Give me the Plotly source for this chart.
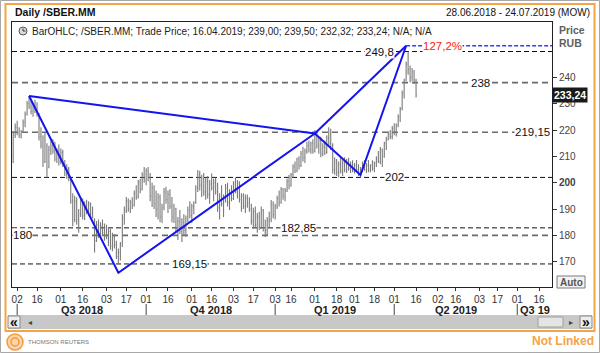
import pandas as pd
import plotly.graph_objects as go

# ---------------- trading calendar (MOEX) ----------------
holidays = ['2018-11-05', '2018-12-31', '2019-01-01', '2019-01-02', '2019-01-07',
            '2019-03-08', '2019-05-01', '2019-05-09', '2019-06-12']
extra_days = ['2018-12-29']
days = pd.bdate_range('2018-06-28', '2019-07-24')
days = days.drop(pd.to_datetime(holidays)).union(pd.to_datetime(extra_days))
pos = {d.strftime('%Y-%m-%d'): i for i, d in enumerate(days)}

# ---------------- daily OHLC, 28.06.2018 .. 16.04.2019 ----------------
opens = [210, 218, 221, 219, 218, 219.5, 223, 226, 230, 229,
         227, 229, 227.5, 226, 217.5, 214, 208, 214, 206, 212.5,
         214, 212, 209, 212, 208, 211.5, 207, 203.5, 205, 201,
         193, 186, 193, 186, 188, 192, 187.5, 191.5, 189, 192,
         188.5, 186, 178, 184, 180.5, 183.5, 181, 183, 179.5, 181.5,
         176, 179.5, 176.5, 172, 173.5, 177, 186.5, 189.5, 193, 190,
         192.5, 191.5, 196, 194.5, 200, 197.5, 203, 201, 204.5, 202,
         195, 198, 192, 190, 194.5, 187, 190.5, 196.5, 193.5, 195.5,
         191, 187, 190, 182.5, 185.5, 181.5, 185, 182, 186.5, 189.5,
         187.5, 191, 192.5, 198, 203, 199, 201.5, 196.5, 200.5, 195.5,
         199.5, 198, 200, 196.5, 190.5, 194.5, 192, 194, 198, 192.5,
         196, 194, 199.5, 197, 200, 193.5, 195, 191, 194, 192,
         190, 185.5, 189, 184, 187, 183, 189.5, 183, 182, 185.5,
         186, 192, 188, 191, 194, 192.5, 197.5, 195, 197, 200.5,
         199, 203, 206, 204.5, 209, 206.5, 211, 209.5, 212, 214,
         212.5, 215, 212, 218, 214, 216, 211, 213.5, 211.5, 217,
         215, 214, 205, 208.5, 204, 207, 204.5, 207.5, 205, 208,
         205.5, 207, 204.5, 206.5, 205, 203.5, 205.5, 207, 205, 206.5,
         205, 206.5, 205.5, 207.5, 209, 208, 212.5, 210, 215, 216.5,
         218.5, 217.5, 220.5, 219.5, 222, 225, 228, 234, 239, 245,
         243, 240, 242, 239.00]
highs = [219.5, 222.5, 223.5, 221, 220, 224, 227, 231, 232.9, 231.2,
         230, 231.5, 230.5, 226.5, 221, 218, 219, 215, 214, 216,
         216.5, 215.5, 213, 214.5, 213, 212.5, 208.6, 207, 206, 201.5,
         196, 195, 194.5, 190, 194.6, 194, 193, 193.5, 193, 192.5,
         191, 186.5, 185.5, 186, 185, 186, 184.5, 184, 183, 182.5,
         181, 180.5, 178, 175, 177.5, 188, 191, 194.6, 194, 193.5,
         194.5, 197, 199, 201, 201.5, 204, 206, 205.5, 206, 203.7,
         200, 199, 197, 196, 195.5, 192, 198, 198.5, 197, 197.5,
         194.6, 192, 190.5, 187, 189.6, 186.5, 188, 187.5, 191, 193,
         192, 193, 199, 204.8, 204.5, 203, 203.7, 202, 202.5, 201,
         203.5, 201.5, 202, 200, 196, 199, 195.5, 199.5, 200, 197.5,
         199, 200.5, 202, 201, 200.5, 196, 196, 195.5, 195.5, 194.5,
         192, 190.5, 191, 188.5, 189, 191, 190, 186, 187, 189,
         193.4, 193, 192, 195, 197, 198.4, 198, 198, 201.5, 203,
         203.7, 207, 208, 209.5, 210, 212, 213.6, 213, 215.5, 216,
         215.5, 216.5, 220, 219.5, 217, 217.4, 215, 216, 218, 221,
         220.5, 215, 209.7, 209, 208, 209.5, 208.5, 209.7, 209, 209.5,
         208, 208.5, 207.5, 208.6, 207, 206, 208, 208.6, 207.5, 208.6,
         207, 208.5, 208, 210, 212, 213.5, 213, 215.5, 217.4, 219.5,
         220, 221.5, 222.6, 222.5, 226, 228.7, 235, 239.5, 246, 249.8,
         244.5, 243.5, 242.8, 239.50]
lows = [207.5, 217, 218, 217, 216.8, 219, 221, 225.5, 228, 226,
        225, 226.5, 225, 216, 213, 206, 207.5, 202, 205.5, 210.5,
        211, 208, 207.5, 206.5, 207, 206, 202.5, 201.5, 200.5, 192,
        183.5, 185, 184, 181, 187, 186, 185.8, 188, 187.5, 187,
        186.5, 173.5, 177.5, 179, 178.5, 180, 178, 178.5, 176, 174.5,
        174, 175, 171, 169.15, 170.5, 175.6, 184, 188.5, 189, 188.5,
        190, 191, 193.5, 194, 196, 197, 200, 199, 200.5, 193,
        190.8, 190, 187, 186, 185, 184.7, 189.5, 192, 188.5, 190,
        185, 184.7, 181, 178.2, 180.5, 177.5, 180, 179.5, 185, 186.5,
        184.7, 188, 192, 196.5, 197, 194.6, 195, 193.5, 194, 192,
        197, 193, 195.5, 189, 186, 191, 187, 192.5, 191, 189.6,
        193, 193.4, 196, 194, 192.5, 189, 190, 188.5, 190.5, 189,
        184, 182.5, 183, 181, 182, 182.5, 181.5, 179.4, 180, 183,
        185, 186.5, 186, 190, 191, 192, 193.5, 193, 196.5, 197.5,
        198.5, 202, 203.7, 204, 205, 206, 208, 207.5, 211, 211.5,
        211, 211, 211.5, 213, 211, 209.7, 210, 210.5, 211, 214,
        212.4, 203.5, 203, 202.5, 202, 203.5, 202.5, 204, 203.7, 204.5,
        203.7, 204, 203.5, 204, 202.5, 202, 204, 204.5, 203.7, 204,
        204, 204.5, 204, 206, 207.5, 207, 206, 209.5, 212.4, 216,
        216.5, 216.5, 218, 217.5, 221, 223, 227.5, 232, 238.5, 241,
        238, 238.5, 237.5, 232.32]
closes = [218, 221, 219, 218, 219.5, 223, 226, 230, 229, 227,
          229, 227.5, 226, 217.5, 214, 208, 216, 205.5, 212.5, 214,
          212, 209, 212, 208, 211.5, 207, 203.5, 205, 201.5, 193,
          186, 193, 186, 188, 192, 187.5, 191.5, 189, 192, 188.5,
          187, 178, 184, 180.5, 183.5, 181, 183, 179.5, 181.5, 176,
          179.5, 176.5, 172, 173.5, 176.5, 186.5, 189.5, 193, 190, 192.5,
          191.5, 196, 194.5, 200, 197.5, 203, 201, 204.5, 202, 195,
          198, 192, 190, 194.5, 187, 190.5, 196.5, 193.5, 195.5, 191,
          187, 190, 182.5, 185.5, 181.5, 185, 182, 186.5, 189.5, 187.5,
          191, 192.5, 198, 203, 199, 201.5, 196.5, 200.5, 195.5, 199.5,
          198, 200, 196.5, 190.5, 194.5, 192, 194, 198, 192.5, 196,
          194, 199.5, 197, 200, 193.5, 195, 191, 194, 192, 190,
          185.5, 189, 184, 187, 183, 189.5, 183, 182, 185.5, 186,
          192, 188, 191, 194, 192.5, 197.5, 195, 197, 200.5, 199,
          203, 206, 204.5, 209, 206.5, 211, 209.5, 212, 214, 212.5,
          215, 212, 218, 214, 216, 211, 213.5, 211.5, 217, 215,
          219, 205, 208.5, 204, 207, 204.5, 207.5, 205, 208, 205.5,
          207, 204.5, 206.5, 205, 203.5, 205.5, 207, 205, 206.5, 205,
          206.5, 205.5, 207.5, 209, 208, 212.5, 208, 215, 216.5, 218.5,
          217.5, 220.5, 219.5, 222, 225, 228, 234, 239, 245, 243,
          240, 242, 239, 233.24]
n_bars = len(closes)
bar_x = list(range(n_bars))

# ---------------- drawing tools ----------------
pattern_dates = ['2018-07-10', '2018-09-11', '2019-02-01', '2019-03-06', '2019-04-09']
pattern_prices = [232.9, 165.8, 218.7, 202.9, 252.0]
ext_level = 252.0
ext_label = '127,2%'

levels = [249.8, 238, 219.15, 202, 182.85, 180, 169.15]
level_labels = ['249,8', '238', '219,15', '202', '182,85', '180', '169,15']
level_kind = ['b', 'g', 'g', 'b', 'b', 'g', 'b']

tick_dates = ['2018-07-02', '2018-07-16', '2018-08-01', '2018-08-16', '2018-09-03', '2018-09-17',
              '2018-10-01', '2018-10-16', '2018-11-01', '2018-11-16', '2018-12-03', '2018-12-17',
              '2019-01-03', '2019-01-16', '2019-02-01', '2019-02-18', '2019-03-01', '2019-03-18',
              '2019-04-01', '2019-04-16', '2019-05-02', '2019-05-16', '2019-06-03', '2019-06-17',
              '2019-07-01', '2019-07-16']
quarter_starts = ['2018-07-02', '2018-10-01', '2019-01-03', '2019-04-01', '2019-07-01']
quarter_labels = ['Q3 2018', 'Q4 2018', 'Q1 2019', 'Q2 2019', 'Q3 19']
price_ticks = [170, 180, 190, 200, 210, 220, 230, 240]

W, H = 600, 353
def X(p):
    return p / W
def Y(p):
    return 1 - p / H

FONT = 'Liberation Sans'
XR = [-0.6, len(days) - 0.5]
YR = [160.4, 261.0]

fig = go.Figure()
fig.add_trace(go.Ohlc(
    x=bar_x, open=opens, high=highs, low=lows, close=closes,
    increasing=dict(line=dict(color='#7a7a7a', width=1.1)),
    decreasing=dict(line=dict(color='#7a7a7a', width=1.1)),
    tickwidth=0.35, hoverinfo='skip', showlegend=False))

px_ = [pos[d] for d in pattern_dates]
py_ = pattern_prices
seg_x = px_ + [None, px_[0], px_[2], None, px_[2], px_[4]]
seg_y = py_ + [None, py_[0], py_[2], None, py_[2], py_[4]]
fig.add_trace(go.Scatter(x=seg_x, y=seg_y, mode='lines',
                         line=dict(color='#1414f0', width=2), hoverinfo='skip', showlegend=False))
fig.add_trace(go.Scatter(x=[px_[4], XR[1]], y=[ext_level, ext_level], mode='lines',
                         line=dict(color='#3a3aff', width=1.5, dash='4px,2px'),
                         hoverinfo='skip', showlegend=False))

shapes = []
for lv, k in zip(levels, level_kind):
    if k == 'b':
        ln = dict(color='#111111', width=1, dash='5px,3px')
    else:
        ln = dict(color='#6a6a6a', width=1.6, dash='6px,4px')
    shapes.append(dict(type='line', xref='x', yref='y', x0=XR[0], x1=XR[1], y0=lv, y1=lv,
                       line=ln, layer='below'))

# outer frames
shapes.append(dict(type='rect', xref='paper', yref='paper', x0=X(0.5), x1=X(599.5), y0=Y(352.5), y1=Y(0.5),
                   line=dict(color='#a8a8a8', width=1)))
shapes.append(dict(type='rect', xref='paper', yref='paper', x0=X(5.5), x1=X(594.5), y0=Y(331), y1=Y(4),
                   line=dict(color='#f5a347', width=2)))
# scrollbar
shapes.append(dict(type='rect', xref='paper', yref='paper', x0=X(8), x1=X(592), y0=Y(329), y1=Y(315),
                   fillcolor='#c8c8c8', line=dict(width=0)))
for a, b in [(8, 20), (580, 592)]:
    shapes.append(dict(type='rect', xref='paper', yref='paper', x0=X(a), x1=X(b), y0=Y(328), y1=Y(316),
                       fillcolor='#ececec', line=dict(color='#8a8a8a', width=1)))
shapes.append(dict(type='rect', xref='paper', yref='paper', x0=X(538), x1=X(563), y0=Y(327), y1=Y(317),
                   fillcolor='#e4e4e4', line=dict(color='#a0a0a0', width=1)))
# Auto button
shapes.append(dict(type='rect', xref='paper', yref='paper', x0=X(557), x1=X(585), y0=Y(288), y1=Y(276),
                   fillcolor='#f2f2f2', line=dict(color='#7a7a7a', width=1)))
# clock icon
shapes.append(dict(type='circle', xref='paper', yref='paper', x0=X(19), x1=X(27), y0=Y(35), y1=Y(27),
                   fillcolor='#dcdcdc', line=dict(color='#555555', width=1)))
shapes.append(dict(type='line', xref='paper', yref='paper', x0=X(23), x1=X(23), y0=Y(31), y1=Y(28.5),
                   line=dict(color='#333', width=1)))
shapes.append(dict(type='line', xref='paper', yref='paper', x0=X(23), x1=X(25.5), y0=Y(31), y1=Y(31),
                   line=dict(color='#333', width=1)))
# logo
shapes.append(dict(type='circle', xref='paper', yref='paper', x0=X(7), x1=X(23), y0=Y(350), y1=Y(334),
                   fillcolor='#fbd3ac', line=dict(color='#f39a3a', width=1.5)))
shapes.append(dict(type='circle', xref='paper', yref='paper', x0=X(11), x1=X(19), y0=Y(346), y1=Y(338),
                   fillcolor='rgba(0,0,0,0)', line=dict(color='#f39a3a', width=1.5)))
# quarter separators
for q in quarter_starts:
    shapes.append(dict(type='line', xref='x', yref='paper', x0=pos[q], x1=pos[q], y0=Y(315), y1=Y(304),
                       line=dict(color='#444', width=1)))

ann = []
def text(x, y, t, size=10, color='#222', xanchor='left', bold=False, family=FONT, **kw):
    if bold:
        t = '<b>' + t + '</b>'
    d = dict(xref='paper', yref='paper', x=X(x), y=Y(y), text=t, showarrow=False,
             xanchor=xanchor, yanchor='middle', font=dict(size=size, color=color, family=family))
    d.update(kw)
    ann.append(d)

text(13, 12, 'Daily /SBER.MM', size=10.5, bold=True, color='#111')
text(592, 12, '28.06.2018 - 24.07.2019 (MOW)', size=10, xanchor='right', color='#111')
last = n_bars - 1
fmt = lambda v: f'{v:.2f}'.replace('.', ',')
legend = ('BarOHLC; /SBER.MM; Trade Price; ' + days[last].strftime('%d.%m.%Y') + '; ' +
          '; '.join(fmt(v) for v in [opens[last], highs[last], lows[last], closes[last]]) + '; N/A; N/A')
text(30, 31, legend, size=10, color='#222')
text(557, 30, 'Price', size=10.5, bold=True, color='#606060')
text(557, 43, 'RUB', size=10.5, bold=True, color='#606060')
text(571, 282, 'Auto', size=10, bold=True, color='#555', xanchor='center')
text(14, 322, '«', size=14, bold=True, color='#111', xanchor='center')
text(586, 322, '»', size=14, bold=True, color='#111', xanchor='center')
text(30, 322, '◂', size=8, color='#444', xanchor='center', family='DejaVu Sans')
text(571, 322, '▸', size=8, color='#444', xanchor='center', family='DejaVu Sans')
text(26, 342, 'THOMSON REUTERS', size=6, color='#777')
text(596, 341, 'Not Linked', size=12, bold=True, color='#f5a347', xanchor='right')

# current value tag
ann.append(dict(xref='paper', yref='y', x=X(552), y=closes[last], text='<b>' + fmt(closes[last]) + '</b>',
                showarrow=False, xanchor='left', yanchor='middle', bgcolor='#1a1a1a', borderpad=1,
                font=dict(size=10.5, color='white', family=FONT)))

# level labels
label_x = [184.5, 235.4, 261.5, 192.3, 143.9, 4.8, 89.0]
for lx, lv, lt in zip(label_x, levels, level_labels):
    ann.append(dict(xref='x', yref='y', x=lx, y=lv, text=lt, showarrow=False, xanchor='center',
                    yanchor='middle', bgcolor='white', borderpad=0,
                    font=dict(size=11.5, color='#111', family=FONT)))
ann.append(dict(xref='x', yref='y', x=216.5, y=ext_level, text=ext_label, showarrow=False,
                xanchor='center', yanchor='middle', bgcolor='white', borderpad=0,
                font=dict(size=11.5, color='#ff2020', family=FONT)))

# quarter labels
q_pos = [pos[q] for q in quarter_starts] + [XR[1]]
for i, ql in enumerate(quarter_labels):
    ann.append(dict(xref='x', yref='paper', x=(q_pos[i] + q_pos[i + 1]) / 2, y=Y(310), text='<b>' + ql + '</b>',
                    showarrow=False, xanchor='center', yanchor='middle',
                    font=dict(size=11, color='#222', family=FONT)))

fig.update_layout(
    width=W, height=H, margin=dict(l=0, r=0, t=0, b=0),
    paper_bgcolor='white', plot_bgcolor='white',
    font=dict(family=FONT, size=10, color='#333'),
    showlegend=False, shapes=shapes, annotations=ann,
    xaxis=dict(domain=[X(12), X(552)], range=XR, rangeslider=dict(visible=False),
               tickvals=[pos[d] for d in tick_dates], ticktext=[d[-2:] for d in tick_dates],
               ticks='outside', ticklen=3, tickcolor='#333', showgrid=False, zeroline=False,
               showline=True, linecolor='#222', linewidth=1, mirror=True,
               tickfont=dict(size=10, color='#333', family=FONT)),
    yaxis=dict(domain=[Y(287), Y(22)], range=YR, side='right',
               tickvals=price_ticks,
               ticktext=['<b>200</b>' if v == 200 else str(v) for v in price_ticks],
               ticks='outside', ticklen=4, tickcolor='#333', showgrid=False, zeroline=False,
               showline=True, linecolor='#222', linewidth=1, mirror=True,
               tickfont=dict(size=10, color='#444', family=FONT)),
)

fig.write_html('out.html', config={'displayModeBar': False})
